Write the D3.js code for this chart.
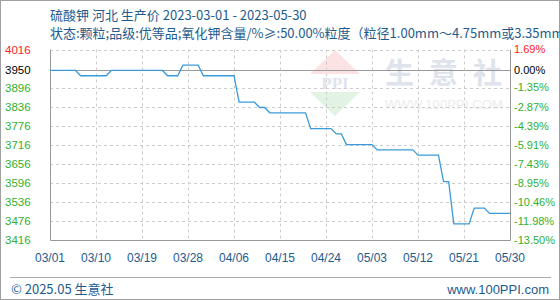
<!DOCTYPE html>
<html><head><meta charset="utf-8">
<script src="https://cdn.jsdelivr.net/npm/d3@7/dist/d3.min.js"></script>
<style>
html,body{margin:0;padding:0;background:#fff;}
svg{display:block;}
</style></head>
<body>
<svg id="c" width="560" height="300"></svg>
<script>
// ---- data ----
const title = "硫酸钾 河北 生产价 2023-03-01 - 2023-05-30";
const subtitle = "状态:颗粒;品级:优等品;氧化钾含量/%≥:50.00%粒度（粒径1.00mm～4.75mm或3.35mm";
const startDate = "2023-03-01";
const prices = [
  3950,3950,3950,3950,3950,3950,
  3933.33,3933.33,3933.33,3933.33,3933.33,3933.33,
  3950,3950,3950,3950,3950,3950,3950,3950,3950,3950,3950,
  3933.33,3933.33,3933.33,
  3966.67,3966.67,3966.67,3966.67,
  3933.33,3933.33,3933.33,3933.33,3933.33,3933.33,3933.33,
  3850,3850,3850,3850,
  3833.33,3833.33,
  3816.67,3816.67,3816.67,3816.67,3816.67,3816.67,3816.67,3816.67,
  3766.67,3766.67,3766.67,3766.67,3766.67,
  3750,3750,
  3716.67,3716.67,3716.67,3716.67,3716.67,3716.67,
  3700,3700,3700,3700,3700,3700,3700,3700,
  3683.33,3683.33,3683.33,3683.33,3683.33,
  3600,3600,
  3466.67,3466.67,3466.67,3466.67,
  3516.67,3516.67,3516.67,
  3500,3500,3500,3500,3500
];
const xTickLabels = ["03/01","03/10","03/19","03/28","04/06","04/15","04/24","05/03","05/12","05/21","05/30"];
const yTickValues = [4016,3950,3896,3836,3776,3716,3656,3596,3536,3476,3416];
const yTickLabels = ["4016","3950","3896","3836","3776","3716","3656","3596","3536","3476","3416"];
const pctLabels = ["1.69%","0.00%","-1.35%","-2.87%","-4.39%","-5.91%","-7.43%","-8.95%","-10.46%","-11.98%","-13.50%"];
const baseValue = 3950;
const footerLeft = "© 2025.05 生意社";
const footerRight = "www.100PPI.com";

// ---- layout ----
const svg = d3.select("#c");
const W = 560, H = 300;
const L = 50, R = 510, T = 49.5, B = 240;
const parse = d3.timeParse("%Y-%m-%d");
const d0 = parse(startDate);
const dates = prices.map((_, i) => d3.timeDay.offset(d0, i));
const data = prices.map((v, i) => ({d: dates[i], v}));

const x = d3.scaleTime().domain([dates[0], dates[dates.length - 1]]).range([L, R]);
const y = d3.scaleLinear().domain([3416, 4016]).range([B, T]);
const xTicks = xTickLabels.map((_, i) => d3.timeDay.offset(d0, i * 9));

const blue = "#1e5b8e";
const cjk = "'Noto Sans CJK SC','Microsoft YaHei',sans-serif";
const num = "'Liberation Sans',Arial,sans-serif";

// outer border
svg.append("rect").attr("x",0.5).attr("y",0.5).attr("width",W-1).attr("height",H-1)
  .attr("fill","#fff").attr("stroke","#a0a0a0");

// watermark
const wm = svg.append("g");
wm.append("path").attr("d","M335,50 L360,74 L310,74 Z").attr("fill","#fbe3e3");
wm.append("path").attr("d","M310,92 L360,92 L335,116 Z").attr("fill","#e2f3e4");
wm.append("text").attr("x",335).attr("y",89).attr("text-anchor","middle")
  .attr("font-family","'Liberation Serif',serif").attr("font-weight","bold").attr("font-size",17)
  .attr("fill","#dfe4ee").text("PPI");
wm.append("text").attr("x",385).attr("y",84)
  .attr("font-family",cjk).attr("font-weight","bold").attr("font-size",29)
  .attr("textLength",117).attr("lengthAdjust","spacing").attr("fill","#dee3ec").text("生意社");
wm.append("text").attr("x",385).attr("y",109)
  .attr("font-family",num).attr("font-size",13).attr("textLength",118).attr("lengthAdjust","spacingAndGlyphs")
  .attr("fill","#ececec").text("WWW.100PPI.COM");

// grid
const g = svg.append("g");
yTickValues.forEach(v => {
  if (v === 3416) return;
  g.append("line").attr("x1",L).attr("x2",R).attr("y1",Math.round(y(v))+0.5).attr("y2",Math.round(y(v))+0.5)
    .attr("stroke", v === baseValue ? "#999" : "#ccc")
    .attr("stroke-dasharray", v === baseValue ? null : "3,3");
});
xTicks.forEach((d, i) => {
  if (i === 0 || i === xTicks.length - 1) return;
  g.append("line").attr("x1",Math.round(x(d))+0.5).attr("x2",Math.round(x(d))+0.5).attr("y1",T).attr("y2",B)
    .attr("stroke","#ccc").attr("stroke-dasharray","3,3");
});
// frame
g.append("path").attr("d",`M${L+0.5},${T} L${L+0.5},${B+0.5} L${R+0.5},${B+0.5} L${R+0.5},${T}`)
  .attr("fill","none").attr("stroke","#999");

// line
svg.append("path").datum(data)
  .attr("d", d3.line().x(p => x(p.d)).y(p => y(p.v)))
  .attr("fill","none").attr("stroke","#3b9ad9").attr("stroke-width",1.3);

// y labels
const colorFor = i => i === 0 ? "#ff2020" : (i === 1 ? "#000" : "#30b030");
yTickValues.forEach((v, i) => {
  svg.append("text").attr("x",5).attr("y",y(v)).attr("dy","0.35em")
    .attr("font-family",num).attr("font-size",11.5).attr("fill",colorFor(i)).text(yTickLabels[i]);
  svg.append("text").attr("x",514).attr("y",y(v)).attr("dy","0.35em")
    .attr("font-family",num).attr("font-size",11).attr("fill",colorFor(i)).text(pctLabels[i]);
});

// x labels
xTicks.forEach((d, i) => {
  svg.append("text").attr("x",x(d)).attr("y",258).attr("dy","0.35em").attr("text-anchor","middle")
    .attr("font-family",num).attr("font-size",12).attr("fill",blue).text(xTickLabels[i]);
});

// titles
svg.append("text").attr("x",50).attr("y",15).attr("dy","0.35em")
  .attr("font-family",cjk).attr("font-size",13).attr("fill",blue).text(title);
svg.append("text").attr("x",50).attr("y",33).attr("dy","0.35em")
  .attr("font-family",cjk).attr("font-size",13).attr("fill",blue).text(subtitle);

// footer
svg.append("line").attr("x1",10).attr("x2",551).attr("y1",277.5).attr("y2",277.5).attr("stroke","#aaa");
svg.append("text").attr("x",11).attr("y",289).attr("dy","0.35em")
  .attr("font-family",cjk).attr("font-size",13).attr("fill",blue).text(footerLeft);
svg.append("text").attr("x",549).attr("y",289).attr("dy","0.35em").attr("text-anchor","end")
  .attr("font-family",num).attr("font-size",13).attr("fill",blue).text(footerRight);
</script>
</body></html>
